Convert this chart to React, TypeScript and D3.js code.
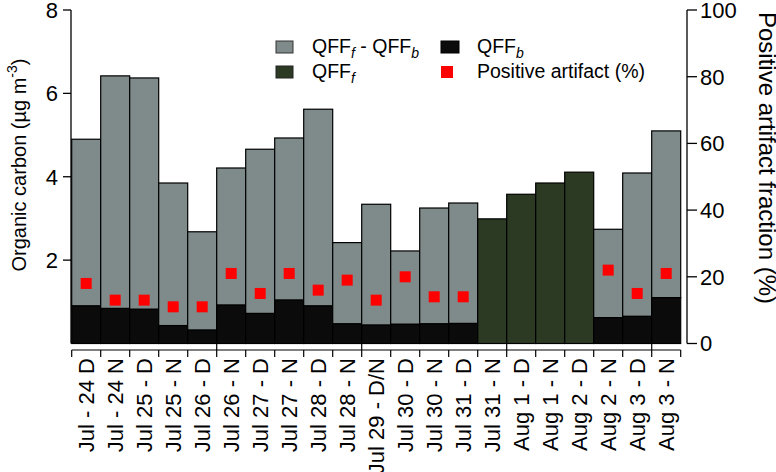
import React from "react";
import * as d3 from "d3";

const categories = ["Jul - 24 D","Jul - 24 N","Jul 25 - D","Jul 25 - N","Jul 26 - D","Jul 26 - N","Jul 27 - D","Jul 27 - N","Jul 28 - D","Jul 28 - N","Jul 29 - D/N","Jul 30 - D","Jul 30 - N","Jul 31 - D","Jul 31 - N","Aug 1 - D","Aug 1 - N","Aug 2 - D","Aug 2 - N","Aug 3 - D","Aug 3 - N"];
const qffF = [4.90, 6.42, 6.37, 3.85, 2.68, 4.21, 4.66, 4.93, 5.62, 2.42, 3.34, 2.22, 3.25, 3.37, 2.99, 3.58, 3.85, 4.11, 2.74, 4.09, 5.10];
const qffB: (number | null)[] = [0.90, 0.84, 0.82, 0.43, 0.32, 0.92, 0.72, 1.04, 0.90, 0.47, 0.44, 0.46, 0.47, 0.48, null, null, null, null, 0.62, 0.65, 1.10];
const artifact: (number | null)[] = [18, 13, 13, 11, 11, 21, 15, 21, 16, 19, 13, 20, 14, 14, null, null, null, null, 22, 15, 21];
const leftTicks = [2, 4, 6, 8];
const rightTicks = [0, 20, 40, 60, 80, 100];

const FONT = "'Liberation Sans', Arial, Helvetica, sans-serif";
const GRAY = "#7f8b8a";
const BLACK = "#0b0b0b";
const GREEN = "#2c3a24";
const RED = "#ff0000";

export default function App() {
  const x = d3.scaleBand<string>().domain(categories).range([71.7, 680.7]).padding(0);
  const yL = d3.scaleLinear().domain([0, 8]).range([343.5, 10]);
  const yR = d3.scaleLinear().domain([0, 100]).range([343.5, 10]);
  const bw = x.bandwidth();
  const x0 = x.range()[0];

  return (
    <svg width={776} height={472} style={{ position: "absolute", left: 0, top: 0, background: "#fff" }} fontFamily={FONT}>
      {/* bars */}
      {categories.map((c, i) => {
        const b = qffB[i];
        const xl = x(c)!;
        if (b === null) {
          return (
            <rect key={c} x={xl} y={yL(qffF[i])} width={bw} height={yL(0) - yL(qffF[i])} fill={GREEN} stroke="#000" strokeWidth={1.2} />
          );
        }
        return (
          <g key={c}>
            <rect x={xl} y={yL(qffF[i])} width={bw} height={yL(b) - yL(qffF[i])} fill={GRAY} stroke="#000" strokeWidth={1.2} />
            <rect x={xl} y={yL(b)} width={bw} height={yL(0) - yL(b)} fill={BLACK} stroke="#000" strokeWidth={1.2} />
          </g>
        );
      })}
      {/* artifact markers */}
      {categories.map((c, i) => {
        const a = artifact[i];
        if (a === null) return null;
        const cx = x(c)! + bw / 2;
        return <rect key={"a" + c} x={cx - 5.5} y={yR(a) - 5.5} width={11} height={11} fill={RED} />;
      })}
      {/* left axis */}
      <line x1={71} x2={71} y1={yL(8)} y2={yL(0)} stroke="#000" strokeWidth={1.3} />
      {leftTicks.map((t) => (
        <g key={"l" + t}>
          <line x1={63} x2={71} y1={yL(t)} y2={yL(t)} stroke="#000" strokeWidth={1.3} />
          <text x={58} y={yL(t)} dy="0.36em" textAnchor="end" fontSize={22}>{t}</text>
        </g>
      ))}
      {/* right axis */}
      <line x1={687} x2={687} y1={yR(100)} y2={yR(0)} stroke="#000" strokeWidth={1.3} />
      {rightTicks.map((t) => (
        <g key={"r" + t}>
          <line x1={687} x2={697} y1={yR(t)} y2={yR(t)} stroke="#000" strokeWidth={1.3} />
          <text x={700} y={yR(t)} dy="0.36em" textAnchor="start" fontSize={22}>{t}</text>
        </g>
      ))}
      {/* x axis */}
      <line x1={x0} x2={x0 + bw * categories.length} y1={350} y2={350} stroke="#000" strokeWidth={1.2} />
      {d3.range(categories.length + 1).map((i) => (
        <line key={"xt" + i} x1={x0 + i * bw} x2={x0 + i * bw} y1={i % 5 === 0 && i > 0 ? 343.5 : 350} y2={357} stroke="#000" strokeWidth={1.2} />
      ))}
      {categories.map((c) => (
        <text key={"xl" + c} transform={`translate(${x(c)! + bw / 2},358) rotate(-90)`} dy="0.36em" textAnchor="end" fontSize={22}>{c}</text>
      ))}
      {/* axis titles */}
      <text transform="translate(26,165) rotate(-90)" textAnchor="middle" fontSize={20}>
        Organic carbon (µg m<tspan fontSize={14} dy={-9}>-3</tspan><tspan dy={9}>)</tspan>
      </text>
      <text transform="translate(759,158) rotate(90)" textAnchor="middle" fontSize={24}>Positive artifact fraction (%)</text>
      {/* legend */}
      <rect x={276} y={41} width={17} height={12} fill={GRAY} stroke="#333" strokeWidth={1} />
      <text x={312} y={53} fontSize={19.5}>QFF<tspan fontSize={14} fontStyle="italic" dy={5}>f</tspan><tspan dy={-5}> - QFF</tspan><tspan fontSize={14} fontStyle="italic" dy={5}>b</tspan></text>
      <rect x={441} y={41} width={18} height={12} fill={BLACK} stroke="#000" strokeWidth={1} />
      <text x={477} y={53} fontSize={19.5}>QFF<tspan fontSize={14} fontStyle="italic" dy={5}>b</tspan></text>
      <rect x={276} y={66} width={17} height={12} fill={GREEN} stroke="#222" strokeWidth={1} />
      <text x={312} y={78} fontSize={19.5}>QFF<tspan fontSize={14} fontStyle="italic" dy={5}>f</tspan></text>
      <rect x={441} y={66} width={12} height={12} fill={RED} />
      <text x={477} y={78} fontSize={19.5}>Positive artifact (%)</text>
    </svg>
  );
}
